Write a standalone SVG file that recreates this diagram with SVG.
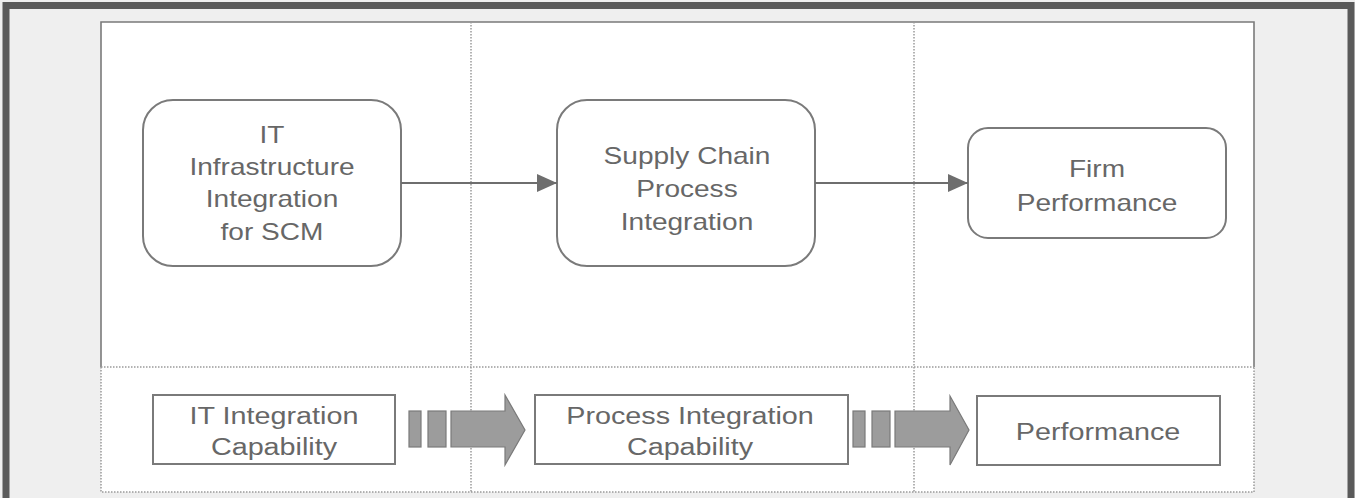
<svg xmlns="http://www.w3.org/2000/svg" width="1355" height="498" viewBox="0 0 1355 498">
  <style>
    .node { fill: #ffffff; stroke: #7a7a7a; stroke-width: 2; }
    .label { font-family: "Liberation Sans", Arial, sans-serif; font-size: 23px; fill: #676767; text-anchor: middle; }
    .frame { fill: none; stroke: #7a7a7a; stroke-width: 1.6; }
    .dots { fill: none; stroke: #9a9a9a; stroke-width: 1.5; stroke-dasharray: 1.5 1.5; }
    .link { fill: none; stroke: #6e6e6e; stroke-width: 1.8; }
    .block { fill: #9c9c9c; stroke: #7a7a7a; stroke-width: 1.2; }
  </style>
  <defs>
    <marker id="arrowhead" viewBox="0 0 20 18" refX="20" refY="9" markerWidth="20" markerHeight="18" markerUnits="userSpaceOnUse" orient="auto">
      <path d="M0,0 L20,9 L0,18 Z" fill="#6e6e6e"/>
    </marker>
  </defs>

  <!-- outer dark frame and background -->
  <rect x="0" y="0" width="1355" height="498" fill="#efefef"/>
  <rect x="6" y="5.5" width="1345" height="500" fill="none" stroke="#5a5a5a" stroke-width="7"/>

  <!-- inner panel -->
  <g id="panel">
    <rect x="101" y="22" width="1153" height="470" fill="#ffffff"/>
    <path class="frame" d="M101,367 V22 H1254 V367"/>
    <path class="dots" d="M101,367 H1254 M101,367 V492 H1254 V367 M471,22 V492 M914,22 V492"/>
  </g>

  <!-- upper row nodes -->
  <g id="it-infrastructure">
    <rect class="node" x="143" y="100" width="258" height="166" rx="30" ry="30"/>
    <g transform="translate(272,0) scale(1.22,1)">
      <text class="label" x="0" y="143">IT</text>
      <text class="label" x="0" y="175">Infrastructure</text>
      <text class="label" x="0" y="207">Integration</text>
      <text class="label" x="0" y="240">for SCM</text>
    </g>
  </g>

  <g id="process-integration">
    <rect class="node" x="557" y="100" width="258" height="166" rx="30" ry="30"/>
    <g transform="translate(687,0) scale(1.22,1)">
      <text class="label" x="0" y="164">Supply Chain</text>
      <text class="label" x="0" y="197">Process</text>
      <text class="label" x="0" y="230">Integration</text>
    </g>
  </g>

  <g id="firm-performance">
    <rect class="node" x="968" y="128" width="258" height="110" rx="20" ry="20"/>
    <g transform="translate(1097,0) scale(1.22,1)">
      <text class="label" x="0" y="177">Firm</text>
      <text class="label" x="0" y="211">Performance</text>
    </g>
  </g>

  <!-- lower row nodes -->
  <g id="it-capability">
    <rect class="node" x="153" y="395" width="242" height="69"/>
    <g transform="translate(274,0) scale(1.25,1)">
      <text class="label" x="0" y="424">IT Integration</text>
      <text class="label" x="0" y="455">Capability</text>
    </g>
  </g>

  <g id="process-capability">
    <rect class="node" x="535" y="395" width="313" height="69"/>
    <g transform="translate(690,0) scale(1.25,1)">
      <text class="label" x="0" y="424">Process Integration</text>
      <text class="label" x="0" y="455">Capability</text>
    </g>
  </g>

  <g id="performance">
    <rect class="node" x="977" y="396" width="243" height="69"/>
    <g transform="translate(1098,0) scale(1.25,1)">
      <text class="label" x="0" y="440">Performance</text>
    </g>
  </g>

  <!-- connectors -->
  <g id="connectors">
    <line class="link" x1="401" y1="183" x2="557" y2="183" marker-end="url(#arrowhead)"/>
    <line class="link" x1="815" y1="183" x2="968" y2="183" marker-end="url(#arrowhead)"/>

    <g id="block-arrow-1">
      <rect class="block" x="409" y="411" width="12" height="36"/>
      <rect class="block" x="428" y="411" width="18" height="36"/>
      <path class="block" d="M451,411 H505 V395 L525,430 L505,465 V447 H451 Z"/>
    </g>
    <g id="block-arrow-2">
      <rect class="block" x="853" y="411" width="12" height="36"/>
      <rect class="block" x="872" y="411" width="18" height="36"/>
      <path class="block" d="M895,411 H950 V396 L969,430 L950,465 V447 H895 Z"/>
    </g>
  </g>
</svg>
